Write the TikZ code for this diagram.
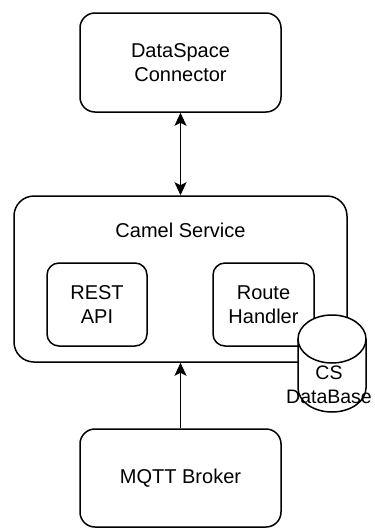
\documentclass[tikz,border=0pt]{standalone}
\usepackage{fontspec}
\setmainfont{Liberation Sans}
\usetikzlibrary{arrows.meta}

\tikzset{
  box/.style={draw, line width=1.5pt, fill=white, align=center, inner sep=0pt},
  tip/.style={line width=1.5pt, {Stealth[length=13pt,width=12pt,inset=3pt]}-{Stealth[length=13pt,width=12pt,inset=3pt]}},
  uptip/.style={line width=1.5pt, -{Stealth[length=13pt,width=12pt,inset=3pt]}}
}

\begin{document}
\begin{tikzpicture}[x=1pt, y=-1pt, font=\fontsize{20}{24}\selectfont]
    \useasboundingbox (0,0) rectangle (375,528);

    \node[box, rounded corners=15pt, minimum width=201pt, minimum height=99pt]
    (dsc) at (180.5,62.5) {DataSpace\\Connector};
    \node[box, rounded corners=20pt, minimum width=333pt, minimum height=166pt]
    (camel) at (180.5,279) {};
    \node (camellabel) at (180.5,230) {Camel Service};
    \node[box, rounded corners=12pt, minimum width=100pt, minimum height=83pt]
    (rest) at (97,304.5) {REST\\API};
    \node[box, rounded corners=12pt, minimum width=101pt, minimum height=83pt]
    (route) at (263.5,304.5) {Route\\Handler};
    \node[box, rounded corners=15pt, minimum width=201pt, minimum height=98pt]
    (mqtt) at (180.5,478) {MQTT Broker};

    % database cylinder
    \filldraw[line width=1.5pt, fill=white] (298,339) -- (298,388)
    arc[start angle=180, end angle=0, x radius=34, y radius=24] -- (366,339);
    \filldraw[line width=1.5pt, fill=white] (332,339) ellipse[x radius=34, y radius=24];
    \node[align=center, font=\fontsize{19.5}{24}\selectfont] (db) at (329,385) {CS\\DataBase};

    \draw[tip] (dsc) -- (camel);
    \draw[uptip] (mqtt) -- (camel);
  \end{tikzpicture}
\end{document}
